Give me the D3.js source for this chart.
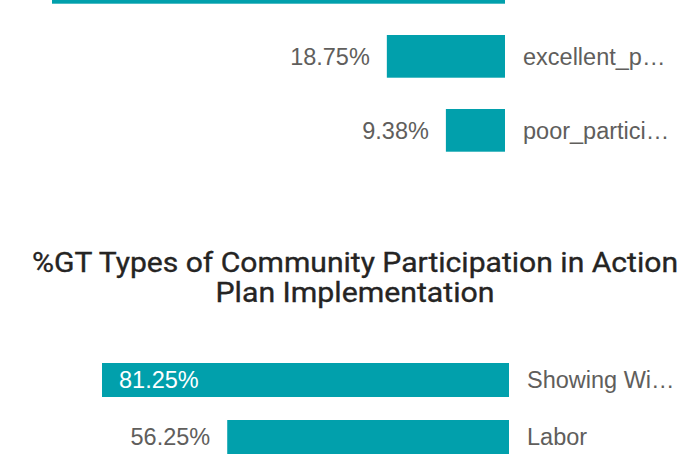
<!DOCTYPE html>
<html>
<head>
<meta charset="utf-8">
<script src="https://cdn.jsdelivr.net/npm/d3@7/dist/d3.min.js"></script>
<style>
  html, body { margin: 0; padding: 0; background: #ffffff; }
  svg { display: block; }
</style>
</head>
<body>
<svg id="chart" width="695" height="466"></svg>
<script>
// Overall rating of community participation (share of groups, %)
const ratingCategories = ["good_participation", "excellent_participation", "poor_participation"];
const ratingValues = [71.88, 18.75, 9.38];

// %GT types of community participation in action plan implementation
const typeCategories = ["Showing Willingness", "Labor"];
const typeValues = [81.25, 56.25];

const chartTitle = ["%GT Types of Community Participation in Action", "Plan Implementation"];

const BAR = "#01a0ac";
const LABEL = "#605e5c";
const TITLE = "#252423";
const LABEL_FONT = "'Liberation Sans', Arial, sans-serif";
const LABEL_SIZE = 23.5;
const VIEW_H = 466;

const svg = d3.select("#chart");

// measuring helper for ellipsis truncation
const probe = svg.append("text")
  .attr("font-family", LABEL_FONT).attr("font-size", LABEL_SIZE)
  .attr("visibility", "hidden");
function fit(str, maxW) {
  probe.text(str);
  if (probe.node().getComputedTextLength() <= maxW) return str;
  for (let n = str.length - 1; n > 0; n--) {
    const t = str.slice(0, n) + "\u2026";
    probe.text(t);
    if (probe.node().getComputedTextLength() <= maxW) return t;
  }
  return "\u2026";
}
function textW(str) {
  probe.text(str);
  return probe.node().getComputedTextLength();
}

// Right-anchored horizontal bar chart: bars grow leftwards from a shared baseline,
// category names sit to the right, value labels outside (or inside the widest bar).
function barChart(g, cats, vals, opt) {
  const x = d3.scaleLinear().domain([0, d3.max(vals)]).range([opt.x1, opt.x0]);
  const y = d3.scaleBand().domain(cats).range([opt.y0, opt.y1])
    .paddingInner(opt.pad).paddingOuter(0);
  const rows = cats.map((c, i) => ({ c, v: vals[i] }));
  const capHalf = LABEL_SIZE * 0.716 / 2;
  // labels are only laid out for rows whose text line lies inside the view
  const labelled = rows.filter(d => {
    const base = y(d.c) + y.bandwidth() / 2 + capHalf;
    return base - 2 * capHalf >= 0 && base <= VIEW_H;
  });

  g.selectAll("rect.bar").data(rows).join("rect")
    .attr("class", "bar")
    .attr("x", d => x(d.v))
    .attr("width", d => x(0) - x(d.v))
    .attr("y", d => y(d.c))
    .attr("height", y.bandwidth())
    .attr("fill", BAR);

  g.selectAll("text.cat").data(labelled).join("text")
    .attr("class", "cat")
    .attr("x", x(0) + opt.gap + 1)
    .attr("y", d => y(d.c) + y.bandwidth() / 2 + capHalf)
    .attr("font-family", LABEL_FONT).attr("font-size", LABEL_SIZE)
    .attr("fill", LABEL)
    .text(d => fit(d.c, 150));

  g.selectAll("text.val").data(labelled).join("text")
    .attr("class", "val")
    .each(function (d) {
      const s = d.v.toFixed(2) + "%";
      const w = x(0) - x(d.v);
      const inside = w > textW(s) + opt.gap * 2 && d.v === d3.max(vals);
      d3.select(this)
        .attr("x", inside ? x(d.v) + opt.gap : x(d.v) - opt.gap)
        .attr("text-anchor", inside ? "start" : "end")
        .attr("fill", inside ? "#ffffff" : LABEL)
        .text(s);
    })
    .attr("y", d => y(d.c) + y.bandwidth() / 2 + capHalf)
    .attr("font-family", LABEL_FONT).attr("font-size", LABEL_SIZE);
}

// upper chart (scrolled so that only its lower part is in view)
barChart(svg.append("g"), ratingCategories, ratingValues,
  { x0: 52, x1: 505, y0: -39, y1: 151.7, pad: 0.423, gap: 17 });

// title of the lower chart
const title = svg.append("text")
  .attr("font-family", "Roboto, 'Open Sans', sans-serif")
  .attr("font-size", 28.5)
  .attr("fill", TITLE)
  .attr("stroke", TITLE)
  .attr("stroke-width", 0.35)
  .attr("text-anchor", "middle");
const titleLens = [646, 279];
const titleBase = [272.3, 302.3];
chartTitle.forEach((line, i) => {
  title.append("tspan")
    .attr("x", 355)
    .attr("y", titleBase[i])
    .attr("textLength", titleLens[i])
    .attr("lengthAdjust", "spacingAndGlyphs")
    .text(line);
});

// lower chart
barChart(svg.append("g"), typeCategories, typeValues,
  { x0: 102, x1: 509, y0: 363, y1: 454, pad: 0.4035, gap: 17 });

probe.remove();
</script>
</body>
</html>
